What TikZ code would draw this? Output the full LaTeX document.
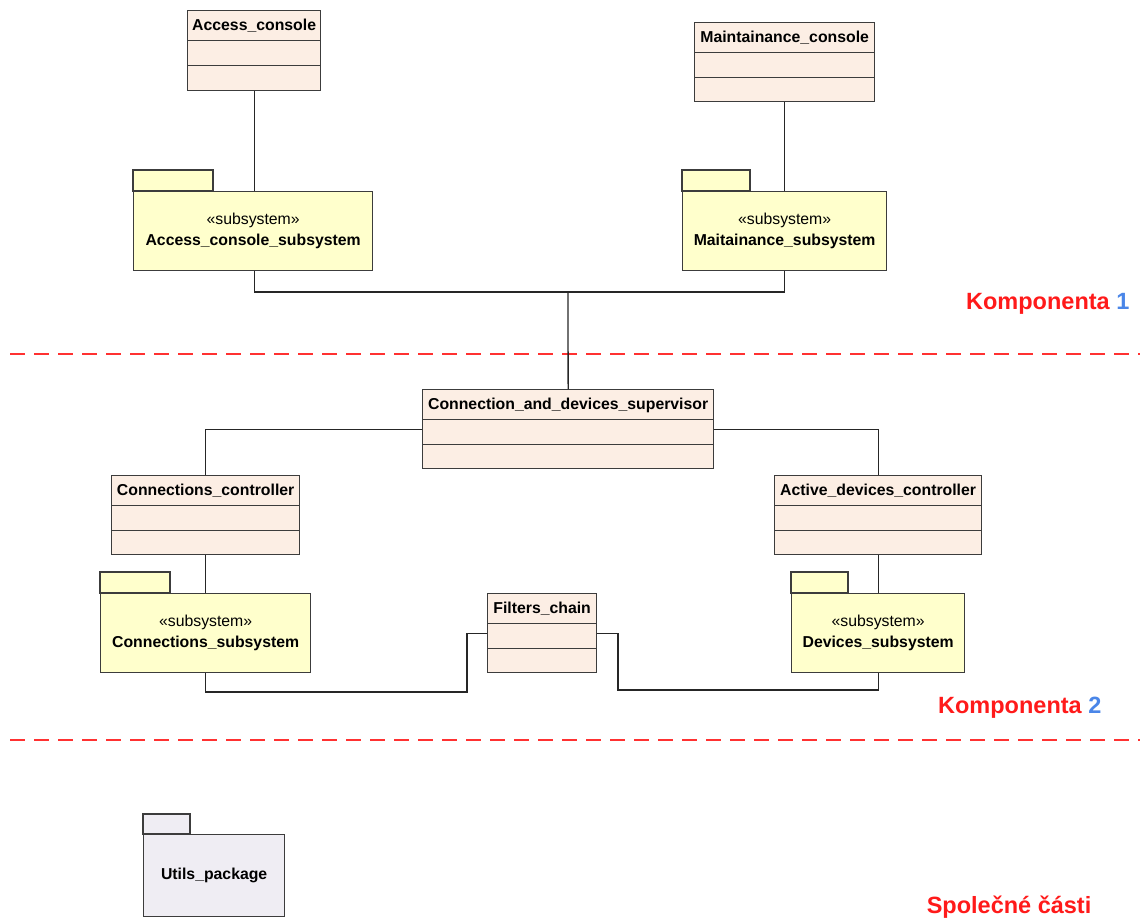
\documentclass[tikz,border=0pt]{standalone}
\usepackage{fontspec}
\setmainfont{Liberation Sans}
\definecolor{boxgray}{HTML}{3C3C3C}
\definecolor{clsfill}{HTML}{FCEEE4}
\definecolor{pkgfill}{HTML}{FFFFCC}
\definecolor{utlfill}{HTML}{EFEDF3}
\definecolor{compred}{HTML}{FF1A1A}
\definecolor{compblue}{HTML}{4A86E8}
\begin{document}
\begin{tikzpicture}[x=1pt, y=-1pt, line width=1.3pt,
    every node/.style={font=\fontsize{15.8}{20.5}\selectfont},
    clsname/.style={anchor=base, yshift=-20pt, inner sep=0pt, font=\bfseries\fontsize{15.8}{18}\selectfont},
    umlclass/.style={draw=boxgray, fill=clsfill, anchor=north west, inner sep=0pt,
        path picture={\draw[boxgray, line width=1.3pt]
            ([yshift=-30pt]path picture bounding box.north west) -- ([yshift=-30pt]path picture bounding box.north east)
            ([yshift=-55pt]path picture bounding box.north west) -- ([yshift=-55pt]path picture bounding box.north east);},
        label={[clsname]north:#1}},
    pkg/.style={draw=boxgray, fill=pkgfill, anchor=north west, inner sep=0pt, align=center},
    pkgtab/.style={draw=boxgray, fill=pkgfill},
    wire/.style={draw=black!85},
    sep/.style={draw=compred!90, line width=2.5pt, dash pattern=on 15pt off 9pt},
    comp/.style={anchor=base east, text=compred, inner sep=0pt, font=\bfseries\fontsize{23.5}{27}\selectfont}]
    \useasboundingbox (0,0) rectangle (1140,918);

    \draw[sep] (10,354) -- (1140,354);
    \draw[sep] (10,740) -- (1140,740);

    \node[umlclass=Access\_console, minimum width=133pt, minimum height=80pt] (acc) at (187,10) {};
    \node[umlclass=Maintainance\_console, minimum width=180pt, minimum height=79pt] (mtc) at (694,22) {};
    \node[pkg, minimum width=239pt, minimum height=79pt] (acs) at (133,191) {«subsystem»\\\textbf{Access\_console\_subsystem}};
    \draw[pkgtab] (acs.north west) rectangle ++(80,-21);
    \node[pkg, minimum width=204pt, minimum height=79pt] (mts) at (682,191) {«subsystem»\\\textbf{Maitainance\_subsystem}};
    \draw[pkgtab] (mts.north west) rectangle ++(68,-21);

    \node[umlclass=Connection\_and\_devices\_supervisor, minimum width=291pt, minimum height=79pt] (sup) at (422,389) {};
    \node[umlclass=Connections\_controller, minimum width=188pt, minimum height=79pt] (cnc) at (111,475) {};
    \node[umlclass=Active\_devices\_controller, minimum width=207pt, minimum height=79pt] (adc) at (774,475) {};
    \node[umlclass=Filters\_chain, minimum width=109pt, minimum height=79pt] (flt) at (487,593) {};
    \node[pkg, minimum width=210pt, minimum height=79pt] (cns) at (100,593) {«subsystem»\\\textbf{Connections\_subsystem}};
    \draw[pkgtab] (cns.north west) rectangle ++(70,-21);
    \node[pkg, minimum width=173pt, minimum height=79pt] (dvs) at (791,593) {«subsystem»\\\textbf{Devices\_subsystem}};
    \draw[pkgtab] (dvs.north west) rectangle ++(57,-21);

    \node[pkg, fill=utlfill, minimum width=141pt, minimum height=82pt, font=\bfseries\fontsize{15.8}{18}\selectfont] (utl) at (143,834) {Utils\_package};
    \draw[pkgtab, fill=utlfill] (utl.north west) rectangle ++(47,-20);

    \coordinate (bus) at (568,292);
    \coordinate (fl) at (467,692);
    \coordinate (fr) at (618,690);

    \draw[wire] (acc.south) -- (acc.south |- acs.north);
    \draw[wire] (mtc.south) -- (mtc.south |- mts.north);
    \draw[wire] (acc.south |- acs.south) -- (acc.south |- bus) -- (mtc.south |- bus) -- (mtc.south |- mts.south);
    \draw[wire] (bus) -- (sup.north);
    \draw[wire] (sup.west) -| (cnc.north);
    \draw[wire] (sup.east) -| (adc.north);
    \draw[wire] (cnc.south) -- (cnc.south |- cns.north);
    \draw[wire] (adc.south) -- (adc.south |- dvs.north);
    \draw[wire] (cns.south) |- (fl) |- (flt.west);
    \draw[wire] (flt.east) -| (fr) -| (dvs.south);

    \node[comp] (k1) at (1130,309) {Komponenta \textcolor{compblue}{1}};
    \node[comp] (k2) at (1102,713) {Komponenta \textcolor{compblue}{2}};
    \node[comp] (k3) at (1092,913) {Společné části};
\end{tikzpicture}
\end{document}
